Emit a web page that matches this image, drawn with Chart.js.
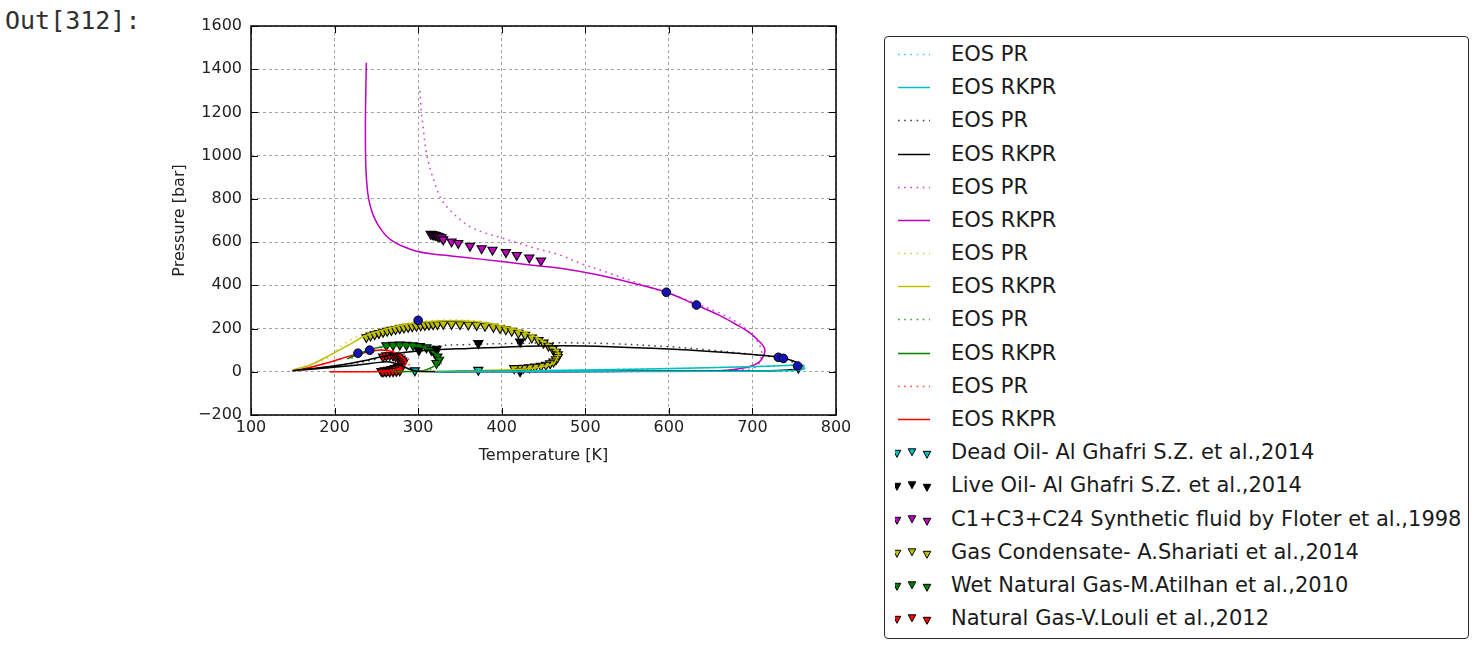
<!DOCTYPE html>
<html>
<head>
<meta charset="utf-8">
<script src="https://cdn.jsdelivr.net/npm/chart.js@4.4.0/dist/chart.umd.min.js"></script>
<style>
  html, body { margin: 0; padding: 0; background: #fff; }
  #wrap { position: relative; width: 1473px; height: 645px; overflow: hidden; }
  #prompt { position: absolute; left: 5px; top: 8px; font-family: "DejaVu Sans Mono", monospace;
            font-size: 25px; line-height: 25px; color: #303030; white-space: pre; }
  #chart { position: absolute; left: 0; top: 0; }
  #legend { position: absolute; left: 884px; top: 36px; width: 583px; height: 601px;
            border: 1px solid #2a2a2a; border-radius: 4px; background: #fff; }
  .row { position: absolute; left: 0; width: 583px; height: 30px; }
  .row svg { position: absolute; left: 10px; top: 0; }
  .row span { position: absolute; left: 66px; top: 0; height: 30px; line-height: 30px;
              font-family: "DejaVu Sans", sans-serif; font-size: 21px; color: #1a1a1a; white-space: nowrap; }
</style>
</head>
<body>
<div id="wrap">
  <div id="prompt">Out[312]:</div>
  <canvas id="chart" width="1473" height="645"></canvas>
  <div id="legend"></div>
</div>
<script>
// ---- Computed phase envelopes: temperature (K) and pressure (bar) ----
// Dead oil
const deadPR_T = [330, 420, 500, 580, 650, 700, 740, 758, 765, 762, 745, 700, 620, 520, 420, 330];
const deadPR_P = [0, 4, 9, 14, 19, 24, 29, 31, 24, 14, 7, 4, 2.5, 1.5, 0.8, 0];
const deadRK_T = [320, 400, 480, 557, 620, 669, 720, 749, 760, 762, 756, 735, 690, 600, 500, 400, 320];
const deadRK_P = [0, 3, 7, 12, 16, 21, 26, 30, 24, 17, 8, 5, 3, 1.5, 1, 0.5, 0];
// Live oil
const livePR_T = [155, 210, 250, 280, 320, 360, 400, 470, 530, 600, 650, 701, 729, 748, 757, 756, 740, 700, 620, 520, 420, 330];
const livePR_P = [5, 30, 58, 85, 118, 126, 130, 134, 130, 116, 100, 80, 65, 45, 25, 12, 6, 4, 2.5, 1.5, 1, 0.5];
const liveRK_T = [150, 200, 240, 266, 285, 300, 322, 360, 400, 470, 530, 600, 650, 700, 731, 749, 757, 757, 750, 720, 650, 550, 450, 350, 300, 290, 280, 270, 262, 230, 190, 150];
const liveRK_P = [5, 28, 55, 78, 90, 96, 102, 108, 114, 120, 116, 105, 94, 80, 68, 50, 30, 18, 10, 5, 3, 2, 1.5, 1, 2, 12, 28, 42, 46, 32, 17, 5];
// C1+C3+C24 synthetic fluid
const synPR_T = [302, 303, 304, 306, 308, 310, 313, 316, 321, 326, 334, 342, 350, 362, 378, 398, 418, 438, 470, 494, 530, 569, 620, 661, 685, 701, 709, 711, 709, 705, 690, 660, 600, 500, 400, 320];
const synPR_P = [1300, 1250, 1196, 1130, 1060, 1011, 960, 918, 860, 810, 765, 733, 705, 671, 645, 622, 598, 574, 540, 502, 455, 402, 335, 271, 220, 162, 120, 86, 50, 24, 10, 5, 3, 2, 1, 0];
const synRK_T = [238, 237.4, 237, 236.9, 237.1, 237.6, 238.5, 239.8, 241.6, 244, 247, 251, 256, 262, 270, 280, 290, 298, 315, 330, 354, 400, 434, 470, 510, 555, 597, 633, 660, 680, 697, 707, 713, 715, 713, 708, 697, 680, 660, 620, 560, 500, 440, 380, 330];
const synRK_P = [1430, 1300, 1200, 1100, 1000, 930, 875, 825, 785, 750, 718, 687, 657, 628, 603, 583, 568, 558, 546, 540, 530, 510, 494, 479, 452, 412, 368, 309, 262, 220, 180, 145, 120, 100, 70, 45, 24, 12, 5, 3, 2, 1, 0.5, 0.3, 0];
// Gas condensate
const condPR_T = [150, 168, 190, 205, 225, 245, 275, 300, 335, 370, 400, 432, 456, 466, 470, 468, 462, 448, 430, 400, 350, 300];
const condPR_P = [8, 30, 60, 110, 160, 190, 218, 232, 240, 236, 218, 183, 134, 105, 86, 58, 36, 22, 14, 8, 4, 1];
const condRK_T = [150, 170, 195, 215, 234, 250, 278, 300, 334, 370, 398, 430, 454, 464, 468, 466, 462, 450, 438, 414, 380, 340, 300];
const condRK_P = [8, 30, 78, 120, 162, 185, 214, 228, 236, 232, 214, 180, 132, 105, 86, 60, 39, 25, 16, 10, 6, 4, 1];
// Wet natural gas
const wetPR_T = [220, 245, 262, 285, 303, 316, 325, 329, 327, 320, 308, 290];
const wetPR_P = [62, 104, 120, 126, 122, 104, 80, 55, 36, 20, 4, 0];
const wetRK_T = [215, 240, 258, 282, 300, 314, 322, 326, 324, 318, 306, 290, 270];
const wetRK_P = [60, 100, 116, 121, 118, 101, 80, 55, 38, 24, 5, 1, 0];
// Natural gas
const natPR_T = [150, 175, 200, 225, 245, 258, 270, 280, 287, 290, 288, 280, 268, 250, 220, 195];
const natPR_P = [6, 24, 50, 78, 96, 104, 98, 85, 65, 45, 27, 14, 5, 1, 0, 0];
const natRK_T = [149, 170, 195, 215, 240, 254, 266, 274, 281, 285.5, 284, 278, 268, 254, 230, 194];
const natRK_P = [5, 20, 45, 70, 92, 101, 96, 86, 68, 47, 30, 16, 6, 1, 0, 0];

// ---- Experimental points ----
const deadOil_T = [296, 372, 755];
const deadOil_P = [6, 8, 18];
const liveOil_T = [301, 322, 372, 422, 422];
const liveOil_P = [100, 106, 132, 139, 2];
const synth_T = [315, 317, 319, 321, 323, 325, 328, 330, 340, 348, 362, 376, 389, 405, 418, 433, 447];
const synth_P = [638, 636, 634, 632, 629, 626, 622, 612, 602, 595, 582, 571, 564, 553, 540, 528, 514];
const cond_T = [238, 243, 248, 253, 258, 263, 268, 273, 278, 283, 288, 293, 298, 303, 308, 313, 318, 323, 330, 340, 350, 360, 370, 380, 390, 398, 405, 412, 420, 428, 436, 444, 450, 456, 461, 465, 467, 467, 465, 462, 458, 453, 447, 440, 433, 426, 420, 415];
const cond_P = [160, 167, 173, 179, 184, 189, 193, 197, 201, 204, 207, 210, 212, 214, 216, 218, 219, 220, 221, 221, 220, 218, 216, 212, 207, 202, 196, 189, 180, 170, 158, 146, 134, 120, 106, 92, 80, 68, 57, 47, 39, 32, 27, 23, 20, 18, 17, 16];
const wet_T = [262, 270, 278, 286, 294, 302, 310, 316, 320, 323, 325, 322];
const wet_P = [122, 124, 125, 124, 122, 118, 112, 100, 85, 70, 55, 40];
const nat_T = [258, 262, 266, 270, 273, 276, 279, 281, 282, 281, 279, 276, 272, 268, 264, 260, 256, 258, 262, 266, 270, 274, 278];
const nat_P = [70, 75, 77, 75, 71, 66, 59, 51, 42, 34, 27, 21, 16, 12, 9, 6, 3, 1, 1, 1, 2, 3, 5];

// Critical points
const crit_T = [228, 242, 300, 597, 633, 731, 737, 754];
const crit_P = [86, 100, 238, 368, 309, 67, 62, 27];

// Axis ticks
const xTicks = [100, 200, 300, 400, 500, 600, 700, 800];
const yTicks = [-200, 0, 200, 400, 600, 800, 1000, 1200, 1400, 1600];

const COL = { cyan: [0, 191, 191], black: [0, 0, 0], magenta: [191, 0, 191], yellow: [191, 191, 0],
              green: [0, 128, 0], red: [255, 0, 0] };
const rgba = (c, a) => `rgba(${c[0]},${c[1]},${c[2]},${a})`;
const DOT_ALPHA = 0.75;

const envelopes = [
  { label: 'EOS PR',   color: COL.cyan,    dotted: true,  T: deadPR_T, P: deadPR_P },
  { label: 'EOS RKPR', color: COL.cyan,    dotted: false, T: deadRK_T, P: deadRK_P },
  { label: 'EOS PR',   color: COL.black,   dotted: true,  T: livePR_T, P: livePR_P },
  { label: 'EOS RKPR', color: COL.black,   dotted: false, T: liveRK_T, P: liveRK_P },
  { label: 'EOS PR',   color: COL.magenta, dotted: true,  T: synPR_T,  P: synPR_P },
  { label: 'EOS RKPR', color: COL.magenta, dotted: false, T: synRK_T,  P: synRK_P },
  { label: 'EOS PR',   color: COL.yellow,  dotted: true,  T: condPR_T, P: condPR_P },
  { label: 'EOS RKPR', color: COL.yellow,  dotted: false, T: condRK_T, P: condRK_P },
  { label: 'EOS PR',   color: COL.green,   dotted: true,  T: wetPR_T,  P: wetPR_P },
  { label: 'EOS RKPR', color: COL.green,   dotted: false, T: wetRK_T,  P: wetRK_P },
  { label: 'EOS PR',   color: COL.red,     dotted: true,  T: natPR_T,  P: natPR_P },
  { label: 'EOS RKPR', color: COL.red,     dotted: false, T: natRK_T,  P: natRK_P }
];

const experiments = [
  { label: 'Dead Oil- Al Ghafri S.Z. et al.,2014', color: COL.cyan, T: deadOil_T, P: deadOil_P },
  { label: 'Live Oil- Al Ghafri S.Z. et al.,2014', color: COL.black, T: liveOil_T, P: liveOil_P },
  { label: 'C1+C3+C24 Synthetic fluid by Floter et al.,1998', color: COL.magenta, T: synth_T, P: synth_P },
  { label: 'Gas Condensate- A.Shariati et al.,2014', color: COL.yellow, T: cond_T, P: cond_P },
  { label: 'Wet Natural Gas-M.Atilhan et al.,2010', color: COL.green, T: wet_T, P: wet_P },
  { label: 'Natural Gas-V.Louli et al.,2012', color: COL.red, T: nat_T, P: nat_P }
];

const toPoints = (T, P) => T.map((t, i) => ({ x: t, y: P[i] }));

const datasets = [];
datasets.push({
  label: 'critical', data: toPoints(crit_T, crit_P), showLine: false,
  pointStyle: 'circle', pointRadius: 4.3, pointBackgroundColor: '#1414b4',
  pointBorderColor: '#000', pointBorderWidth: 1, order: 0
});
envelopes.forEach(e => datasets.push({
  label: e.label, data: toPoints(e.T, e.P), showLine: true, fill: false,
  borderColor: rgba(e.color, e.dotted ? DOT_ALPHA : 1), borderWidth: 1.5,
  borderDash: e.dotted ? [1.6, 4.4] : [],
  pointRadius: 0, tension: 0.35, order: 1
}));
experiments.forEach(e => datasets.push({
  label: e.label, data: toPoints(e.T, e.P), showLine: false,
  pointStyle: 'triangle', pointRotation: 180, pointRadius: 5.3,
  pointBackgroundColor: rgba(e.color, 1), pointBorderColor: '#000', pointBorderWidth: 1.1, order: 2
}));

// Axes frame with inward tick marks on all four sides
const framePlugin = {
  id: 'frame',
  afterDraw(chart) {
    const { ctx, chartArea: a, scales: { x, y } } = chart;
    ctx.save();
    ctx.strokeStyle = '#000';
    ctx.lineWidth = 1;
    ctx.beginPath();
    x.ticks.forEach(t => {
      const px = Math.round(x.getPixelForValue(t.value)) + 0.5;
      ctx.moveTo(px, a.bottom); ctx.lineTo(px, a.bottom - 7);
      ctx.moveTo(px, a.top); ctx.lineTo(px, a.top + 7);
    });
    y.ticks.forEach(t => {
      const py = Math.round(y.getPixelForValue(t.value)) + 0.5;
      ctx.moveTo(a.left, py); ctx.lineTo(a.left + 7, py);
      ctx.moveTo(a.right, py); ctx.lineTo(a.right - 7, py);
    });
    ctx.stroke();
    ctx.lineWidth = 1.5;
    ctx.strokeRect(a.left, a.top, a.right - a.left, a.bottom - a.top);
    ctx.restore();
  }
};

const tickFont = { family: 'DejaVu Sans', size: 16 };
const fmt = v => (v < 0 ? '\u2212' + Math.abs(v) : String(v));

new Chart(document.getElementById('chart'), {
  type: 'scatter',
  data: { datasets },
  options: {
    responsive: false,
    animation: false,
    devicePixelRatio: 1,
    layout: { padding: { left: 0, top: 26, right: 637, bottom: 0 } },
    plugins: { legend: { display: false }, tooltip: { enabled: false } },
    scales: {
      x: {
        type: 'linear', min: xTicks[0], max: xTicks[xTicks.length - 1],
        afterFit(s) { s.height = 230; },
        afterBuildTicks(s) { s.ticks = xTicks.map(v => ({ value: v })); },
        ticks: { padding: 3.5, autoSkip: false, maxRotation: 0, color: '#222', font: tickFont, callback: fmt },
        grid: { color: '#a3a3a3', lineWidth: 1, drawTicks: false },
        border: { display: false, dash: [3, 3] },
        title: { display: true, text: 'Temperature [K]', color: '#222', font: tickFont,
                 padding: { top: 0, bottom: 179.4 } }
      },
      y: {
        type: 'linear', min: yTicks[0], max: yTicks[yTicks.length - 1],
        afterFit(s) { s.width = 251; },
        afterBuildTicks(s) { s.ticks = yTicks.map(v => ({ value: v })); },
        ticks: { padding: 9, color: '#222', font: tickFont, callback: fmt },
        grid: { color: '#a3a3a3', lineWidth: 1, drawTicks: false },
        border: { display: false, dash: [3, 3] },
        title: { display: true, text: 'Pressure [bar]', color: '#222', font: tickFont,
                 padding: { top: 170.4, bottom: 0 } }
      }
    }
  },
  plugins: [framePlugin]
});

// Legend: line samples for the envelopes, triangle triplets for the measurements
const legendEl = document.getElementById('legend');
const legendRows = envelopes.map(e => ({ label: e.label, color: e.color, kind: e.dotted ? 'dotted' : 'solid' }))
  .concat(experiments.map(e => ({ label: e.label, color: e.color, kind: 'marker' })));
const NS = 'http://www.w3.org/2000/svg';
legendRows.forEach((r, i) => {
  const row = document.createElement('div');
  row.className = 'row';
  row.style.top = (54 + i * 33.18 - 36 - 1 - 15) + 'px';
  const svg = document.createElementNS(NS, 'svg');
  svg.setAttribute('width', '44'); svg.setAttribute('height', '30');
  if (r.kind === 'marker') {
    [[2, 16.5], [17, 15], [32, 17.5]].forEach(([cx, cy]) => {
      const tri = document.createElementNS(NS, 'polygon');
      tri.setAttribute('points', `${cx - 3.8},${cy - 3.2} ${cx + 3.8},${cy - 3.2} ${cx},${cy + 3.8}`);
      tri.setAttribute('fill', rgba(r.color, 1));
      tri.setAttribute('stroke', '#000');
      tri.setAttribute('stroke-width', '1');
      svg.appendChild(tri);
    });
  } else {
    const ln = document.createElementNS(NS, 'line');
    ln.setAttribute('x1', '3'); ln.setAttribute('x2', '35');
    ln.setAttribute('y1', '15.5'); ln.setAttribute('y2', '15.5');
    ln.setAttribute('stroke', rgba(r.color, r.kind === 'dotted' ? DOT_ALPHA : 1));
    ln.setAttribute('stroke-width', '1.5');
    if (r.kind === 'dotted') ln.setAttribute('stroke-dasharray', '1.6 4.6');
    svg.appendChild(ln);
  }
  const span = document.createElement('span');
  span.textContent = r.label;
  row.appendChild(svg);
  row.appendChild(span);
  legendEl.appendChild(row);
});
</script>
</body>
</html>
